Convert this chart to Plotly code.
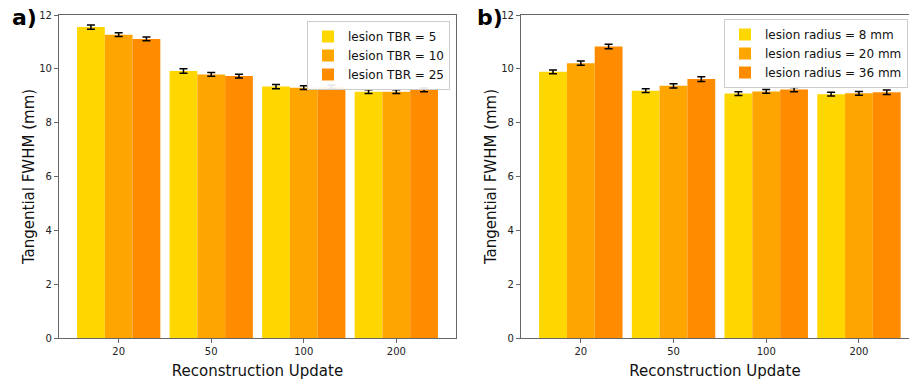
import plotly.graph_objects as go

categories = ["20", "50", "100", "200"]

tbr_labels = ["lesion TBR = 5", "lesion TBR = 10", "lesion TBR = 25"]
tbr_values = [
    [11.55, 9.92, 9.34, 9.15],
    [11.27, 9.79, 9.30, 9.15],
    [11.11, 9.73, 9.32, 9.22],
]
tbr_errors = [
    [0.08, 0.08, 0.08, 0.07],
    [0.07, 0.07, 0.07, 0.07],
    [0.07, 0.07, 0.07, 0.07],
]

rad_labels = ["lesion radius = 8 mm", "lesion radius = 20 mm", "lesion radius = 36 mm"]
rad_values = [
    [9.89, 9.19, 9.08, 9.06],
    [10.21, 9.37, 9.16, 9.09],
    [10.83, 9.62, 9.23, 9.13],
]
rad_errors = [
    [0.07, 0.07, 0.07, 0.07],
    [0.08, 0.08, 0.07, 0.07],
    [0.08, 0.09, 0.08, 0.08],
]

colors = ["#FFD700", "#FFA500", "#FF8C00"]

fig = go.Figure()

for i in range(3):
    fig.add_trace(go.Bar(
        x=categories, y=tbr_values[i], name=tbr_labels[i],
        marker=dict(color=colors[i], line=dict(width=0)),
        error_y=dict(type="data", array=tbr_errors[i], color="black", thickness=1.5, width=4),
        xaxis="x", yaxis="y", legend="legend",
    ))
for i in range(3):
    fig.add_trace(go.Bar(
        x=categories, y=rad_values[i], name=rad_labels[i],
        marker=dict(color=colors[i], line=dict(width=0)),
        error_y=dict(type="data", array=rad_errors[i], color="black", thickness=1.5, width=4),
        xaxis="x2", yaxis="y2", legend="legend2",
    ))

font_family = "DejaVu Sans"
axis_common = dict(
    showline=True, linecolor="#666666", linewidth=1.2,
    ticks="outside", ticklen=4, tickcolor="#666666",
    tickfont=dict(size=10, color="#222222", family=font_family),
    showgrid=False, zeroline=False, automargin=False,
)

ydom = [1 - 338 / 380, 1 - 15 / 380]

legend_common = dict(
    xanchor="right", yanchor="top",
    bgcolor="rgba(255,255,255,0.9)", bordercolor="#cccccc", borderwidth=1,
    font=dict(size=12, family=font_family, color="#111111"),
    itemwidth=30, tracegroupgap=0,
)

fig.update_layout(
    width=909, height=380,
    margin=dict(l=0, r=0, t=0, b=0, autoexpand=False),
    paper_bgcolor="white", plot_bgcolor="white",
    barmode="group", bargap=0.1, bargroupgap=0,
    font=dict(family=font_family, color="#111111"),
    xaxis=dict(domain=[59 / 909, 456 / 909], range=[-0.645, 3.645], anchor="y",
               mirror=True,
               title=dict(text="Reconstruction Update", font=dict(size=15), standoff=10),
               **axis_common),
    yaxis=dict(domain=ydom, range=[0, 12], dtick=2, anchor="x", mirror=True,
               title=dict(text="Tangential FWHM (mm)", font=dict(size=15), standoff=0),
               **axis_common),
    xaxis2=dict(domain=[521 / 909, 1.0], range=[-0.645, 3.54], anchor="y2",
                mirror=True,
                title=dict(text="Reconstruction Update", font=dict(size=15), standoff=10),
                **axis_common),
    yaxis2=dict(domain=ydom, range=[0, 12], dtick=2, anchor="x2", mirror=True,
                title=dict(text="Tangential FWHM (mm)", font=dict(size=15), standoff=0),
                **axis_common),
    legend=dict(x=450 / 909, y=1 - 21 / 380, **legend_common),
    legend2=dict(x=908 / 909, y=1 - 19 / 380, **legend_common),
    annotations=[
        dict(text="<b>a)</b>", x=10 / 909, y=1 - 17 / 380, xref="paper", yref="paper",
             xanchor="left", yanchor="middle", showarrow=False,
             font=dict(size=22, color="black", family=font_family)),
        dict(text="<b>b)</b>", x=475 / 909, y=1 - 17 / 380, xref="paper", yref="paper",
             xanchor="left", yanchor="middle", showarrow=False,
             font=dict(size=22, color="black", family=font_family)),
    ],
)

fig.write_html(
    "out.html",
    config={"displayModeBar": False},
    post_script="document.body.style.margin='0';document.body.style.overflow='hidden';",
)
